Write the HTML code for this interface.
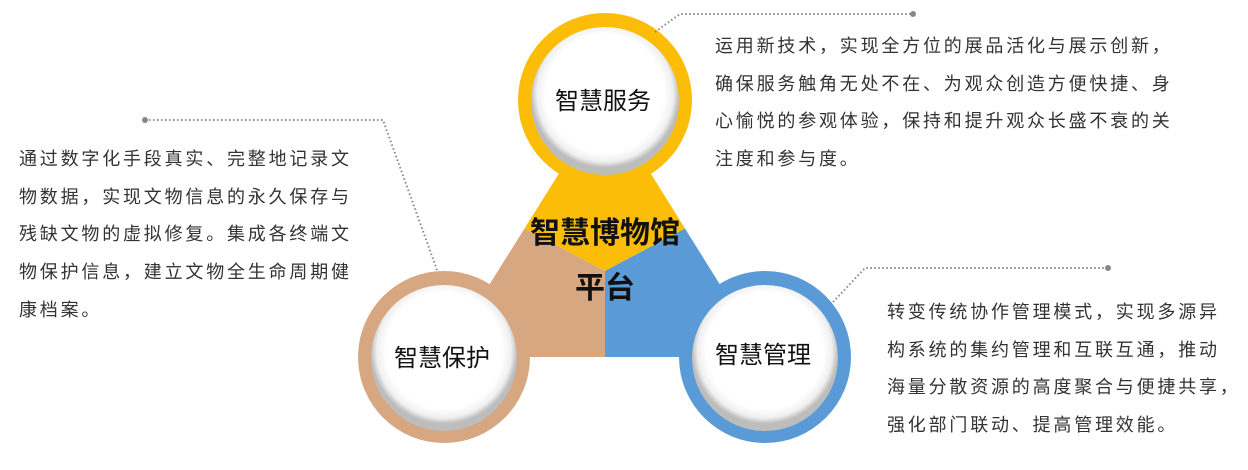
<!DOCTYPE html>
<html><head><meta charset="utf-8"><style>
html,body{margin:0;padding:0;background:#fff;}
body{width:1248px;height:470px;position:relative;overflow:hidden;font-family:"Liberation Sans","Noto Sans CJK SC",sans-serif;}
.t{position:absolute;font-size:18px;letter-spacing:2.8px;line-height:37.7px;color:#333;white-space:nowrap;}
</style></head><body>
<svg width="1248" height="470" style="position:absolute;left:0;top:0">
<defs>
<radialGradient id="g" cx="50%" cy="45%" r="50%">
<stop offset="0.8" stop-color="#fff"/>
<stop offset="0.92" stop-color="#f0f0f0"/>
<stop offset="1" stop-color="#bdbdbd"/>
</radialGradient>
</defs>
<polygon points="605,100 524.5,228.5 605,271 685,228.5" fill="#fbbd07"/>
<polygon points="444,357 524.5,228.5 605,271 605,357" fill="#d6a780"/>
<polygon points="765,357 685,228.5 605,271 605,357" fill="#5a9ad6"/>
<circle cx="605" cy="100" r="87" fill="#fbbd07"/>
<circle cx="444" cy="357" r="86" fill="#d6a780"/>
<circle cx="765" cy="357" r="86" fill="#5a9ad6"/>
<circle cx="605" cy="101" r="74" fill="url(#g)"/>
<circle cx="444" cy="358" r="73" fill="url(#g)"/>
<circle cx="765" cy="358" r="73" fill="url(#g)"/>
<g fill="none" stroke="#888" stroke-width="2" stroke-dasharray="1.5,2.5">
<polyline points="655,32 680,14 913,14"/>
<polyline points="145,120 383,120 437,270"/>
<polyline points="833,302 865,268 1108,268"/>
</g>
<g fill="#888"><circle cx="913" cy="14" r="3"/><circle cx="145" cy="120" r="3"/><circle cx="1108" cy="268" r="3"/></g>
<g font-family="Liberation Sans, Noto Sans CJK SC, sans-serif" text-anchor="middle" fill="#111">
<text x="603" y="109" font-size="24">智慧服务</text>
<text x="442" y="366" font-size="24">智慧保护</text>
<text x="763" y="363" font-size="24">智慧管理</text>
<text x="605" y="243" font-size="30" font-weight="bold">智慧博物馆</text>
<text x="605" y="298" font-size="30" font-weight="bold">平台</text>
</g>
</svg>
<div class="t" style="left:19px;top:141px">通过数字化手段真实、完整地记录文<br>物数据，实现文物信息的永久保存与<br>残缺文物的虚拟修复。集成各终端文<br>物保护信息，建立文物全生命周期健<br>康档案。</div>
<div class="t" style="left:715px;top:28px">运用新技术，实现全方位的展品活化与展示创新，<br>确保服务触角无处不在、为观众创造方便快捷、身<br>心愉悦的参观体验，保持和提升观众长盛不衰的关<br>注度和参与度。</div>
<div class="t" style="left:887px;top:294px">转变传统协作管理模式，实现多源异<br>构系统的集约管理和互联互通，推动<br>海量分散资源的高度聚合与便捷共享，<br>强化部门联动、提高管理效能。</div>
</body></html>
